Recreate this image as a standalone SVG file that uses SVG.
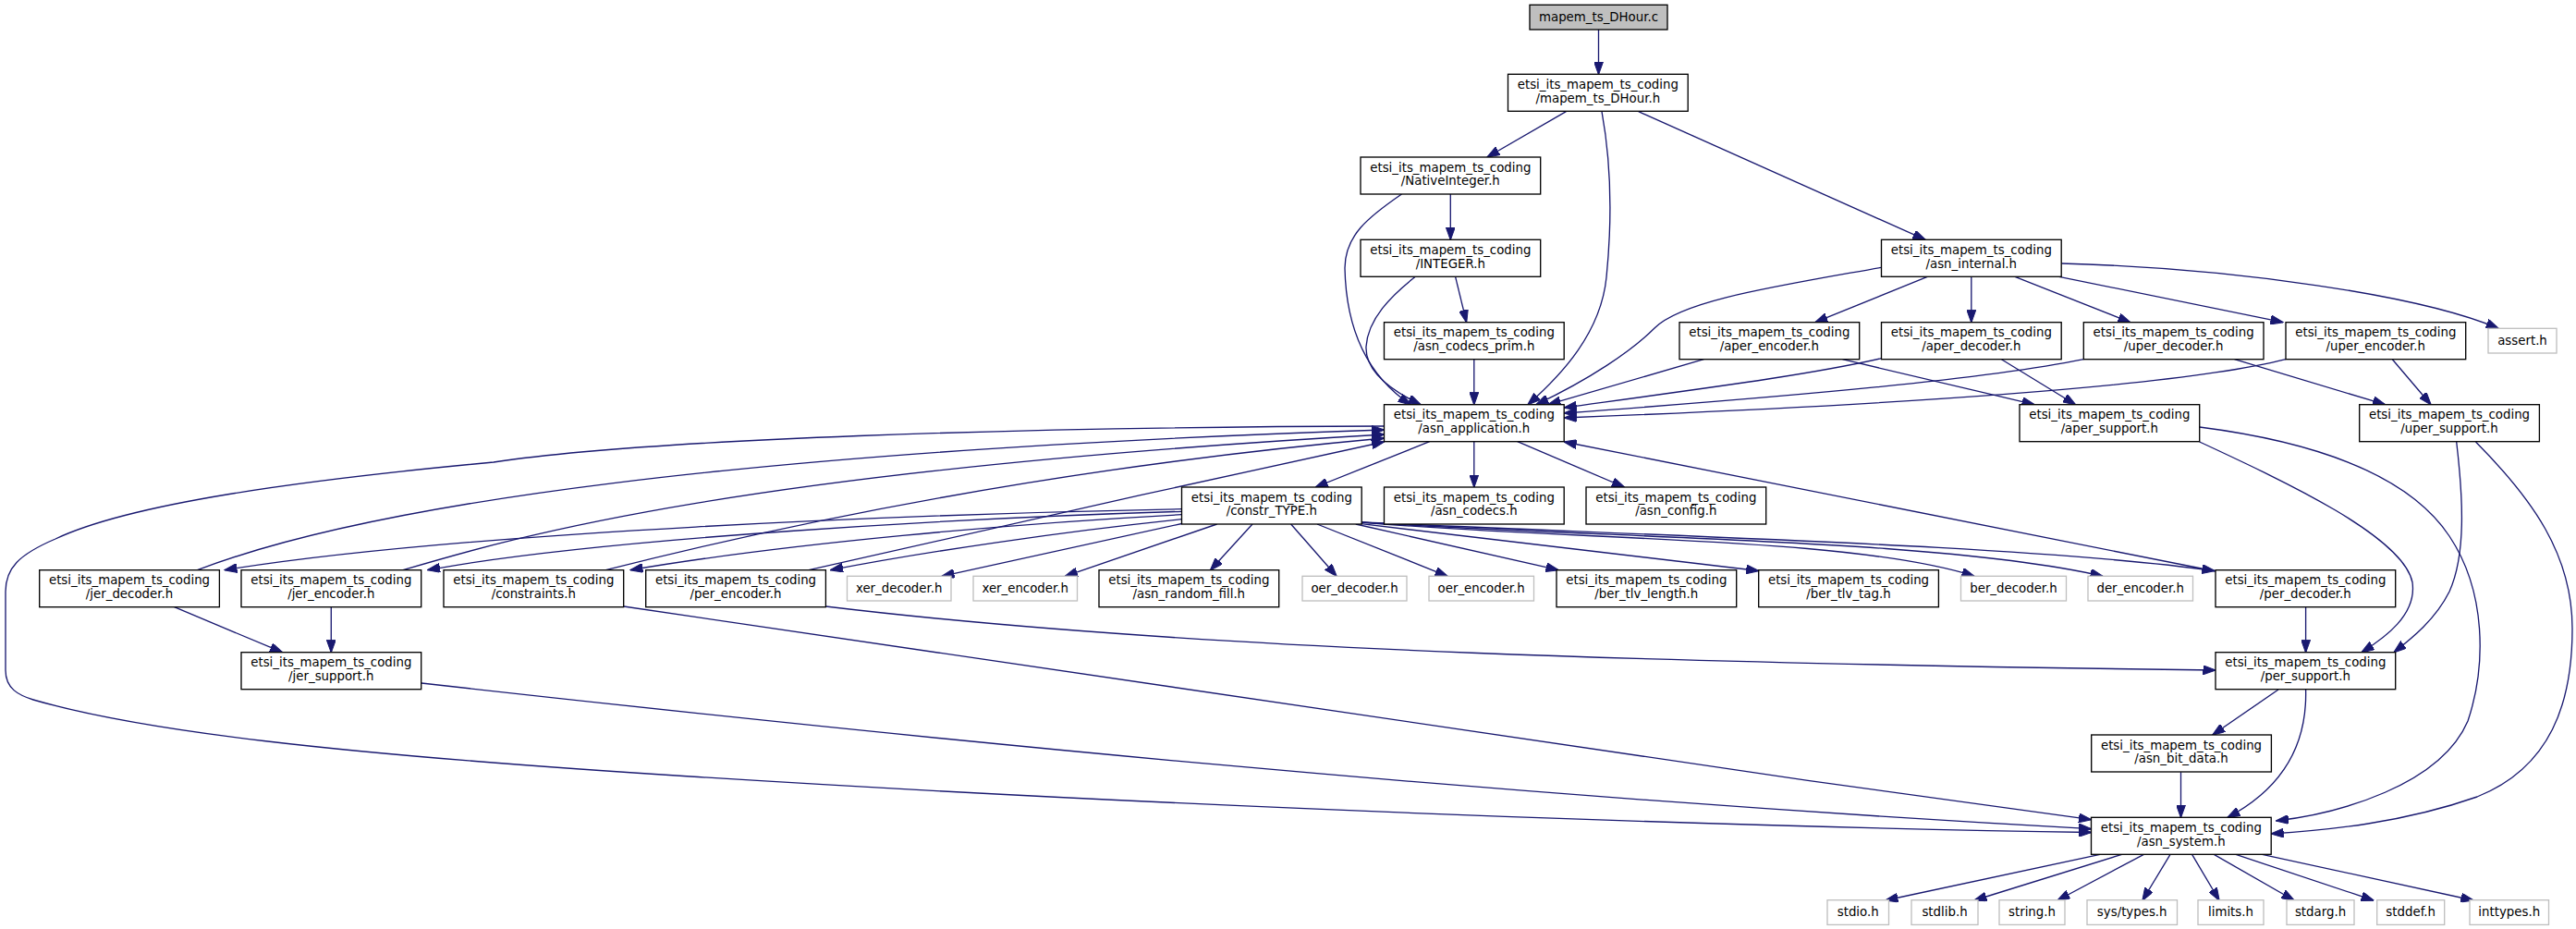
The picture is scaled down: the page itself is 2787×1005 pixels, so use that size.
<svg xmlns="http://www.w3.org/2000/svg" width="2787" height="1005" viewBox="0 0 2787 1005">
<defs>
<style>
.n rect{fill:#fff;stroke:#000;stroke-width:1.33}
.n.g rect{stroke:#bfbfbf}
.n.root rect{fill:#bfbfbf}
text{font-family:"DejaVu Sans","Liberation Sans",sans-serif;font-size:13.33px;text-anchor:middle;fill:#000}
#edges path{fill:none;stroke:#191970;stroke-width:1.33;marker-end:url(#a)}
</style>
<marker id="a" markerUnits="userSpaceOnUse" markerWidth="14" markerHeight="10" viewBox="0 0 14 10" refX="13.5" refY="5" orient="auto"><path d="M0,0 L14,5 L0,10 z" fill="#191970" stroke="#191970" stroke-width="1"/></marker>
</defs>
<rect width="2787" height="1005" fill="#fff"/>
<g id="edges">
<path d="M1729.5,32 L1729.5,80.3"/>
<path d="M1694.4,120.7 L1609,170"/>
<path d="M1733,120.7 C1742,170 1745,230 1738,300 C1732,360 1690,405 1653,437.7"/>
<path d="M1772.7,120.7 L2083,259.3"/>
<path d="M1569.3,210 L1569.3,259.3"/>
<path d="M1516.5,210 C1480,235 1455,255 1455,290 C1456,340 1470,400 1526,437.7"/>
<path d="M1574.6,299.3 L1586.6,348.7"/>
<path d="M1531.3,299.3 C1505,320 1480,345 1478,375 C1477,400 1500,420 1537,437.7"/>
<path d="M2035.5,289.3 C1920,310 1820,325 1790,355 C1765,380 1720,410 1662,437.7"/>
<path d="M2085.3,299.3 L1963.8,348.7"/>
<path d="M2132.8,299.3 L2132.8,348.7"/>
<path d="M2180,299.3 L2304.8,348.7"/>
<path d="M2227.7,299.3 L2470,348.7"/>
<path d="M2230.2,285 C2420,290 2620,320 2703,355.3"/>
<path d="M1843.4,388.7 L1675,437.7"/>
<path d="M2035.5,387.7 C1960,405 1860,418 1692.3,441"/>
<path d="M2254.4,388.7 C2150,410 1950,428 1692.3,447"/>
<path d="M2473,388.7 C2350,420 2000,440 1692.3,452"/>
<path d="M1993.4,388.7 L2201,437.7"/>
<path d="M2165.4,388.7 L2245.5,437.7"/>
<path d="M2417.5,388.7 L2580.6,437.7"/>
<path d="M2588.3,388.7 L2630,437.7"/>
<path d="M2379.7,478 C2470,520 2600,580 2610,630 C2615,665 2580,690 2555,705.7"/>
<path d="M2379.7,462 C2520,480 2610,520 2650,580 C2690,640 2690,720 2670,780 C2640,850 2530,880 2462.5,888"/>
<path d="M2657.7,478 C2665,540 2668,600 2650,640 C2635,670 2610,690 2590,705.7"/>
<path d="M2678.5,478 C2740,540 2783,600 2783,680 C2783,760 2760,830 2680,862 C2600,890 2520,898 2457.2,902"/>
<path d="M2494.6,656.7 L2494.6,705.7"/>
<path d="M2397,618 L1692.3,478"/>
<path d="M893.3,656 C1300,705 1850,718 2397,725"/>
<path d="M674.7,656 C1100,722 1700,810 2262.5,886.7"/>
<path d="M456,739 C1000,800 1600,860 2262.5,896.7"/>
<path d="M1497.5,461 C1100,462 700,475 534,500 C320,520 140,545 60,583 C20,600 6,615 6,640 L6,725 C6,745 20,752 36,757 C150,790 350,815 747,840 C1300,875 1900,895 2262.5,900.5"/>
<path d="M188.6,656.7 L305.5,705.7"/>
<path d="M358.3,656.7 L358.3,705.7"/>
<path d="M213.5,616.7 C400,545 800,488 1497.5,465"/>
<path d="M436,616.7 C560,580 800,510 1497.5,470"/>
<path d="M655.4,616.7 C800,580 1100,510 1497.5,474"/>
<path d="M875,616.7 C1050,577 1300,520 1497.5,478"/>
<path d="M1278.5,550.7 C1000,556 500,575 243,616.7"/>
<path d="M1278.5,553.3 C1050,560 650,582 462.6,616.7"/>
<path d="M1278.5,556.7 C1100,566 850,588 682,616.7"/>
<path d="M1278.5,561.7 C1150,575 1000,597 898.6,616.7"/>
<path d="M1278.5,566.5 L1019,623.3"/>
<path d="M1316.7,567 L1152.4,623.3"/>
<path d="M1355,567 L1309.6,616.7"/>
<path d="M1396.7,567 L1446,623.3"/>
<path d="M1425,567 L1566,623.3"/>
<path d="M1466.8,567 L1686,616.7"/>
<path d="M1472.7,566.7 L1902.7,617.5"/>
<path d="M1473,565 C1700,585 2000,580 2136,623.3"/>
<path d="M1473,565 C1750,583 2100,583 2275,623.3"/>
<path d="M1473,565 C1800,580 2200,590 2396,617.5"/>
<path d="M1546.7,477.7 L1423.3,527"/>
<path d="M1594.8,477.7 L1594.8,527"/>
<path d="M1641.7,477.7 L1757.4,527"/>
<path d="M1594.8,388.7 L1594.8,437.7"/>
<path d="M2465,746 L2393.8,795"/>
<path d="M2494.6,746 C2496,800 2475,850 2410,884.3"/>
<path d="M2359.5,835.3 L2359.5,884.3"/>
<path d="M2272,924.3 L2040,974"/>
<path d="M2295.7,924.3 L2136,974"/>
<path d="M2319.4,924.3 L2226,974"/>
<path d="M2348,924.3 L2318,974"/>
<path d="M2371.6,924.3 L2401,974"/>
<path d="M2395.3,924.3 L2482,974"/>
<path d="M2419,924.3 L2568,974"/>
<path d="M2447.5,924.3 L2676,974"/>
</g>
<g id="n_root" class="n root"><rect x="1655" y="5.3" width="149" height="26.7"/><text x="1729.5" y="23">mapem_ts_DHour.c</text></g>
<g id="n_dhour_h" class="n"><rect x="1631.5" y="80.3" width="194.7" height="40"/><text x="1728.8" y="96">etsi_its_mapem_ts_coding</text><text x="1728.8" y="110.7">/mapem_ts_DHour.h</text></g>
<g id="n_nativeinteger" class="n"><rect x="1472" y="170" width="194.7" height="40"/><text x="1569.3" y="185.7">etsi_its_mapem_ts_coding</text><text x="1569.3" y="200.3">/NativeInteger.h</text></g>
<g id="n_integer" class="n"><rect x="1472" y="259.3" width="194.7" height="40"/><text x="1569.3" y="275">etsi_its_mapem_ts_coding</text><text x="1569.3" y="289.7">/INTEGER.h</text></g>
<g id="n_asn_internal" class="n"><rect x="2035.5" y="259.3" width="194.7" height="40"/><text x="2132.8" y="275">etsi_its_mapem_ts_coding</text><text x="2132.8" y="289.7">/asn_internal.h</text></g>
<g id="n_asn_codecs_prim" class="n"><rect x="1497.5" y="348.7" width="194.7" height="40"/><text x="1594.8" y="364.4">etsi_its_mapem_ts_coding</text><text x="1594.8" y="379">/asn_codecs_prim.h</text></g>
<g id="n_aper_encoder" class="n"><rect x="1817" y="348.7" width="194.7" height="40"/><text x="1914.3" y="364.4">etsi_its_mapem_ts_coding</text><text x="1914.3" y="379">/aper_encoder.h</text></g>
<g id="n_aper_decoder" class="n"><rect x="2035.5" y="348.7" width="194.7" height="40"/><text x="2132.8" y="364.4">etsi_its_mapem_ts_coding</text><text x="2132.8" y="379">/aper_decoder.h</text></g>
<g id="n_uper_decoder" class="n"><rect x="2254.3" y="348.7" width="194.7" height="40"/><text x="2351.6" y="364.4">etsi_its_mapem_ts_coding</text><text x="2351.6" y="379">/uper_decoder.h</text></g>
<g id="n_uper_encoder" class="n"><rect x="2473" y="348.7" width="194.7" height="40"/><text x="2570.3" y="364.4">etsi_its_mapem_ts_coding</text><text x="2570.3" y="379">/uper_encoder.h</text></g>
<g id="n_assert" class="n g"><rect x="2692" y="355.3" width="74" height="26.7"/><text x="2729" y="373">assert.h</text></g>
<g id="n_asn_application" class="n"><rect x="1497.5" y="437.7" width="194.7" height="40"/><text x="1594.8" y="453.4">etsi_its_mapem_ts_coding</text><text x="1594.8" y="468">/asn_application.h</text></g>
<g id="n_aper_support" class="n"><rect x="2185" y="437.7" width="194.7" height="40"/><text x="2282.3" y="453.4">etsi_its_mapem_ts_coding</text><text x="2282.3" y="468">/aper_support.h</text></g>
<g id="n_uper_support" class="n"><rect x="2552.7" y="437.7" width="194.7" height="40"/><text x="2650" y="453.4">etsi_its_mapem_ts_coding</text><text x="2650" y="468">/uper_support.h</text></g>
<g id="n_constr_type" class="n"><rect x="1278.5" y="527" width="194.7" height="40"/><text x="1375.8" y="542.7">etsi_its_mapem_ts_coding</text><text x="1375.8" y="557.3">/constr_TYPE.h</text></g>
<g id="n_asn_codecs" class="n"><rect x="1497.5" y="527" width="194.7" height="40"/><text x="1594.8" y="542.7">etsi_its_mapem_ts_coding</text><text x="1594.8" y="557.3">/asn_codecs.h</text></g>
<g id="n_asn_config" class="n"><rect x="1716" y="527" width="194.7" height="40"/><text x="1813.3" y="542.7">etsi_its_mapem_ts_coding</text><text x="1813.3" y="557.3">/asn_config.h</text></g>
<g id="n_jer_decoder" class="n"><rect x="42.7" y="616.7" width="194.7" height="40"/><text x="140" y="632.4">etsi_its_mapem_ts_coding</text><text x="140" y="647">/jer_decoder.h</text></g>
<g id="n_jer_encoder" class="n"><rect x="261" y="616.7" width="194.7" height="40"/><text x="358.3" y="632.4">etsi_its_mapem_ts_coding</text><text x="358.3" y="647">/jer_encoder.h</text></g>
<g id="n_constraints" class="n"><rect x="480" y="616.7" width="194.7" height="40"/><text x="577.3" y="632.4">etsi_its_mapem_ts_coding</text><text x="577.3" y="647">/constraints.h</text></g>
<g id="n_per_encoder" class="n"><rect x="698.7" y="616.7" width="194.7" height="40"/><text x="796" y="632.4">etsi_its_mapem_ts_coding</text><text x="796" y="647">/per_encoder.h</text></g>
<g id="n_xer_decoder" class="n g"><rect x="916.5" y="623.3" width="112.5" height="26.7"/><text x="972.7" y="641">xer_decoder.h</text></g>
<g id="n_xer_encoder" class="n g"><rect x="1053" y="623.3" width="112.5" height="26.7"/><text x="1109.2" y="641">xer_encoder.h</text></g>
<g id="n_asn_random_fill" class="n"><rect x="1189" y="616.7" width="194.7" height="40"/><text x="1286.3" y="632.4">etsi_its_mapem_ts_coding</text><text x="1286.3" y="647">/asn_random_fill.h</text></g>
<g id="n_oer_decoder" class="n g"><rect x="1409" y="623.3" width="113" height="26.7"/><text x="1465.5" y="641">oer_decoder.h</text></g>
<g id="n_oer_encoder" class="n g"><rect x="1546" y="623.3" width="113.5" height="26.7"/><text x="1602.7" y="641">oer_encoder.h</text></g>
<g id="n_ber_tlv_length" class="n"><rect x="1684" y="616.7" width="194.7" height="40"/><text x="1781.3" y="632.4">etsi_its_mapem_ts_coding</text><text x="1781.3" y="647">/ber_tlv_length.h</text></g>
<g id="n_ber_tlv_tag" class="n"><rect x="1902.7" y="616.7" width="194.7" height="40"/><text x="2000" y="632.4">etsi_its_mapem_ts_coding</text><text x="2000" y="647">/ber_tlv_tag.h</text></g>
<g id="n_ber_decoder" class="n g"><rect x="2121.5" y="623.3" width="114" height="26.7"/><text x="2178.5" y="641">ber_decoder.h</text></g>
<g id="n_der_encoder" class="n g"><rect x="2259" y="623.3" width="113.5" height="26.7"/><text x="2315.7" y="641">der_encoder.h</text></g>
<g id="n_per_decoder" class="n"><rect x="2397" y="616.7" width="194.7" height="40"/><text x="2494.3" y="632.4">etsi_its_mapem_ts_coding</text><text x="2494.3" y="647">/per_decoder.h</text></g>
<g id="n_jer_support" class="n"><rect x="261" y="705.7" width="194.7" height="40"/><text x="358.3" y="721.4">etsi_its_mapem_ts_coding</text><text x="358.3" y="736">/jer_support.h</text></g>
<g id="n_per_support" class="n"><rect x="2397" y="705.7" width="194.7" height="40"/><text x="2494.3" y="721.4">etsi_its_mapem_ts_coding</text><text x="2494.3" y="736">/per_support.h</text></g>
<g id="n_asn_bit_data" class="n"><rect x="2262.7" y="795" width="194.7" height="40"/><text x="2360" y="810.7">etsi_its_mapem_ts_coding</text><text x="2360" y="825.3">/asn_bit_data.h</text></g>
<g id="n_asn_system" class="n"><rect x="2262.5" y="884.3" width="194.7" height="40"/><text x="2359.8" y="900">etsi_its_mapem_ts_coding</text><text x="2359.8" y="914.6">/asn_system.h</text></g>
<g id="n_stdio" class="n g"><rect x="1977" y="973.7" width="66.5" height="26.7"/><text x="2010.2" y="991.4">stdio.h</text></g>
<g id="n_stdlib" class="n g"><rect x="2068" y="973.7" width="72" height="26.7"/><text x="2104" y="991.4">stdlib.h</text></g>
<g id="n_string" class="n g"><rect x="2163" y="973.7" width="71" height="26.7"/><text x="2198.5" y="991.4">string.h</text></g>
<g id="n_sys_types" class="n g"><rect x="2258" y="973.7" width="97.5" height="26.7"/><text x="2306.7" y="991.4">sys/types.h</text></g>
<g id="n_limits" class="n g"><rect x="2378" y="973.7" width="71" height="26.7"/><text x="2413.5" y="991.4">limits.h</text></g>
<g id="n_stdarg" class="n g"><rect x="2474" y="973.7" width="73" height="26.7"/><text x="2510.5" y="991.4">stdarg.h</text></g>
<g id="n_stddef" class="n g"><rect x="2571.7" y="973.7" width="73" height="26.7"/><text x="2608.2" y="991.4">stddef.h</text></g>
<g id="n_inttypes" class="n g"><rect x="2672" y="973.7" width="85.5" height="26.7"/><text x="2714.7" y="991.4">inttypes.h</text></g>
</svg>
